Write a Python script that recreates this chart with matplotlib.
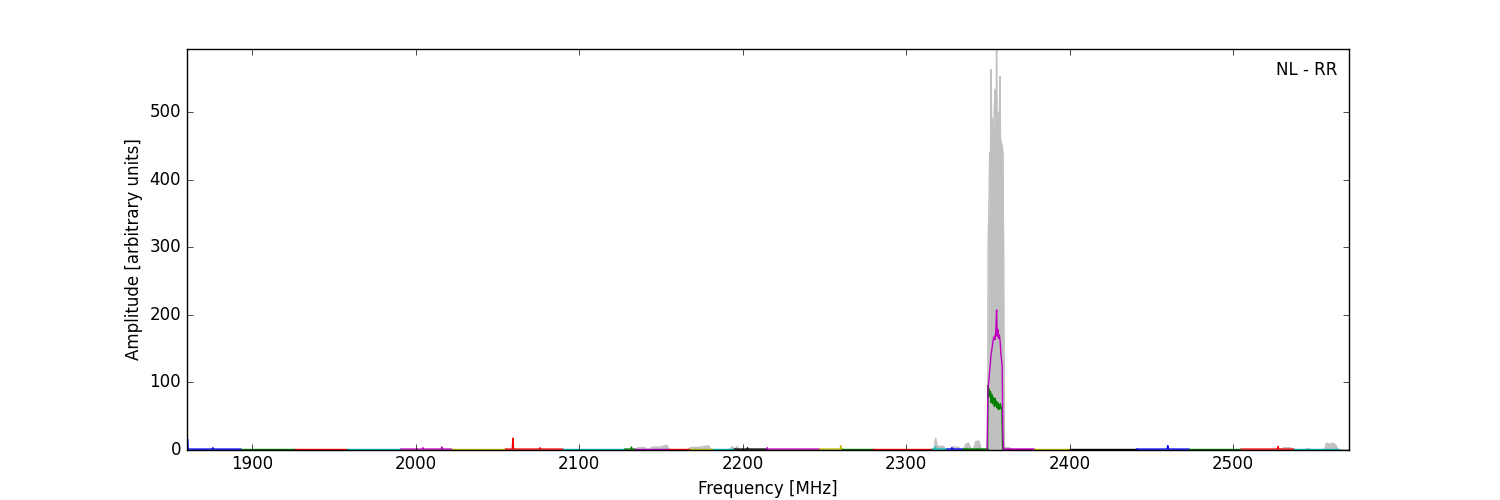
import numpy as np
import matplotlib
matplotlib.use('Agg')
import matplotlib.pyplot as plt

plt.style.use('classic')

# frequency bands (MHz) and the colour each one was drawn in
band_lo = [1860, 1893, 1926, 1958, 1991, 2022, 2055, 2090, 2128, 2134, 2155, 2168,
           2182, 2195, 2215, 2247, 2261, 2280, 2316, 2325, 2335, 2360, 2378, 2400,
           2441, 2473, 2505, 2537]
band_hi = [1893, 1926, 1958, 1991, 2022, 2055, 2090, 2128, 2134, 2155, 2168, 2182,
           2195, 2215, 2247, 2261, 2280, 2316, 2325, 2335, 2350, 2378, 2400, 2441,
           2473, 2505, 2537, 2565]
band_color = ['b', 'g', 'r', 'c', 'm', 'y', 'r', 'c', 'g', 'm', 'r', 'y',
              'c', 'k', 'm', 'y', 'g', 'r', 'c', 'b', 'g', 'm', 'y', 'k',
              'b', 'g', 'r', 'c']
baseline = 1.0

# narrow spikes on top of the band lines
spike_freq = [1860.5, 1876, 2004.5, 2016, 2059.5, 2076, 2132, 2203, 2215,
              2260, 2318, 2328, 2460, 2527.5]
spike_amp = [16, 3, 3, 4, 17, 3, 4, 3, 3, 6, 4, 3, 6, 5]

# the strong carrier seen by two bands
mag_freq = [2349.5, 2350.0, 2350.5, 2351.2, 2351.9, 2352.5, 2353.2, 2353.8, 2354.3,
            2354.8, 2355.3, 2355.7, 2356.1, 2356.5, 2357.0, 2357.5, 2358.0, 2358.7,
            2359.2, 2359.6, 2378]
mag_amp = [1.0, 90, 100, 120, 140, 150, 162, 168, 163, 175, 207, 168, 178, 165, 170,
           160, 140, 125, 20, 1.0, 1.0]
grn_freq = [2335, 2349.8, 2350.1, 2350.4, 2350.8, 2351.2, 2351.6, 2352.0, 2352.4,
            2352.8, 2353.2, 2353.6, 2354.0, 2354.4, 2354.8, 2355.2, 2355.6, 2356.0,
            2356.4, 2356.8, 2357.2, 2357.6, 2358.0, 2358.5, 2359.0]
grn_amp = [1.0, 1.0, 95, 80, 90, 78, 86, 70, 82, 68, 78, 74, 64, 76, 66, 72, 62, 70,
           60, 66, 60, 68, 62, 63, 1.0]

# max-hold spectrum (grey), one (frequency, amplitude) pair per entry
gray_freq = [1860, 2134, 2136, 2140, 2142,
             2145, 2150, 2153.5, 2155,
             2166, 2168, 2175, 2179, 2181,
             2192, 2193.5, 2195, 2196.5, 2197.5,
             2317, 2318, 2319, 2320, 2323, 2324,
             2327, 2328, 2332, 2333,
             2335, 2336.5, 2338, 2340,
             2341, 2342.5, 2344.5, 2346,
             2349.8, 2350.1, 2350.6, 2351.1, 2351.5, 2352.0, 2352.3, 2352.6,
             2353.0, 2353.5, 2354.0, 2354.4, 2354.8, 2355.0, 2355.3, 2355.6,
             2356.0, 2356.4, 2356.9, 2357.4, 2357.7, 2358.2, 2358.7, 2359.2,
             2359.6, 2360.0, 2361, 2363, 2365,
             2529, 2531, 2535, 2537,
             2544, 2545.5, 2547,
             2556, 2557, 2559, 2561, 2563, 2564, 2571]
gray_amp = [0, 0, 3, 3, 0,
            4, 4, 7, 0,
            0, 3, 4, 6, 0,
            0, 5, 0, 5, 0,
            0, 17, 5, 5, 5, 0,
            0, 4, 4, 0,
            0, 8, 10, 0,
            0, 12, 13, 0,
            0, 300, 360, 440, 420, 563, 470, 490,
            470, 480, 510, 533, 480, 500, 593, 470,
            500, 470, 480, 553, 460, 455, 450, 440,
            300, 5, 3, 3, 0,
            0, 3, 3, 0,
            0, 2, 0,
            0, 10, 8, 10, 6, 0, 0]

fig = plt.figure(figsize=(15, 5), dpi=100, facecolor='white')
ax = fig.add_subplot(111)
fig.subplots_adjust(left=0.1245, right=0.8995, bottom=0.1005, top=0.9015)

ax.fill_between(gray_freq, 0, gray_amp, color='#c0c0c0', lw=0)
ax.plot(gray_freq, gray_amp, color='#c0c0c0', lw=1)

for lo, hi, col in zip(band_lo, band_hi, band_color):
    xs, ys = [lo], [baseline]
    for f, a in zip(spike_freq, spike_amp):
        if lo <= f < hi:
            xs += [max(lo, f - 0.4), f, f + 0.4]
            ys += [baseline, a, baseline]
    xs.append(hi)
    ys.append(baseline)
    ax.plot(xs, ys, color=col, lw=1)

ax.plot(grn_freq, grn_amp, color='g', lw=1)
ax.plot(mag_freq, mag_amp, color='m', lw=1)

ax.text(0.99, 0.947, 'NL - RR', transform=ax.transAxes, ha='right', va='center',
        fontsize=12)

ax.set_xlim(1860, 2571)
ax.set_ylim(0, 593)
ax.set_xticks([1900, 2000, 2100, 2200, 2300, 2400, 2500])
ax.set_yticks([0, 100, 200, 300, 400, 500])
ax.set_xlabel('Frequency [MHz]')
ax.set_ylabel('Amplitude [arbitrary units]')

fig.savefig('out.png', dpi=100, facecolor='white')
